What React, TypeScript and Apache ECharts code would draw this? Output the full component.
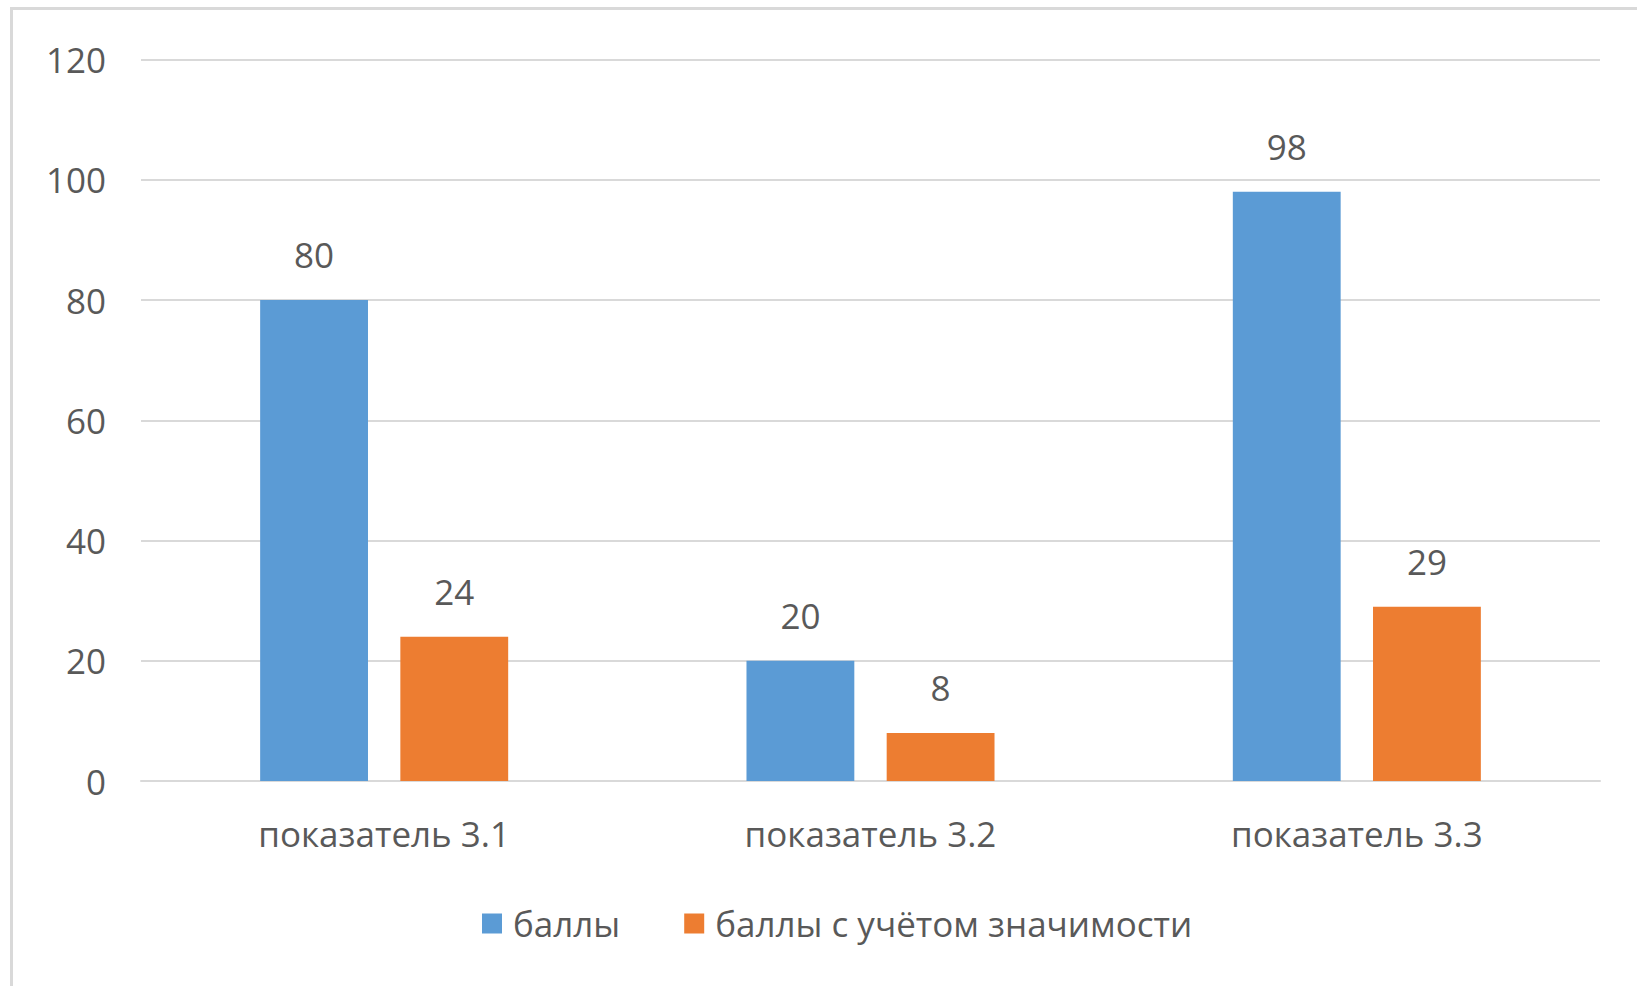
import React, { useEffect, useRef } from "react";
import * as echarts from "echarts";

const categories = ["показатель 3.1", "показатель 3.2", "показатель 3.3"];
const seriesNames = ["баллы", "баллы с учётом значимости"];
const scores = [80, 20, 98];
const weightedScores = [24, 8, 29];
const yTicks = { min: 0, max: 120, interval: 20 };

const FONT = "'Open Sans', sans-serif";
const TEXT = "#595959";

export default function App() {
  const ref = useRef<HTMLDivElement>(null);
  useEffect(() => {
    if (!ref.current) return;
    const chart = echarts.init(ref.current, null, { renderer: "svg" });
    chart.setOption({
      animation: false,
      backgroundColor: "#ffffff",
      textStyle: { fontFamily: FONT },
      graphic: [
        {
          type: "rect",
          shape: { x: 11.5, y: 8.5, width: 1700, height: 1100 },
          style: { fill: "none", stroke: "#d9d9d9", lineWidth: 3 },
          silent: true,
          z: -1,
        },
      ],
      grid: { left: 141, right: 37, top: 59.5, bottom: 205, containLabel: false },
      legend: {
        data: seriesNames,
        left: 477,
        top: 901,
        itemWidth: 20,
        itemHeight: 20,
        itemGap: 64,
        icon: "rect",
        textStyle: { fontSize: 35, color: TEXT, fontFamily: FONT, padding: [0, 0, 0, 6] },
      },
      xAxis: {
        type: "category",
        data: categories,
        axisLine: { show: true, lineStyle: { color: "#d9d9d9", width: 2 } },
        axisTick: { show: false },
        axisLabel: { fontSize: 35, color: TEXT, fontFamily: FONT, margin: 35 },
      },
      yAxis: {
        type: "value",
        min: yTicks.min,
        max: yTicks.max,
        interval: yTicks.interval,
        axisLine: { show: false },
        axisTick: { show: false },
        splitLine: { lineStyle: { color: "#d9d9d9", width: 2 } },
        axisLabel: { fontSize: 35, color: TEXT, fontFamily: FONT, margin: 35 },
      },
      series: [
        {
          name: seriesNames[0],
          type: "bar",
          data: scores,
          itemStyle: { color: "#5b9bd5" },
          barGap: "30%",
          barCategoryGap: "49%",
          label: { show: true, position: "top", distance: 28, fontSize: 35, color: TEXT, fontFamily: FONT },
        },
        {
          name: seriesNames[1],
          type: "bar",
          data: weightedScores,
          itemStyle: { color: "#ed7d31" },
          barGap: "30%",
          barCategoryGap: "49%",
          label: { show: true, position: "top", distance: 28, fontSize: 35, color: TEXT, fontFamily: FONT },
        },
      ],
    });
    return () => chart.dispose();
  }, []);
  return (
    <div
      ref={ref}
      style={{ position: "fixed", left: 0, top: 0, width: 1637, height: 986 }}
    />
  );
}
